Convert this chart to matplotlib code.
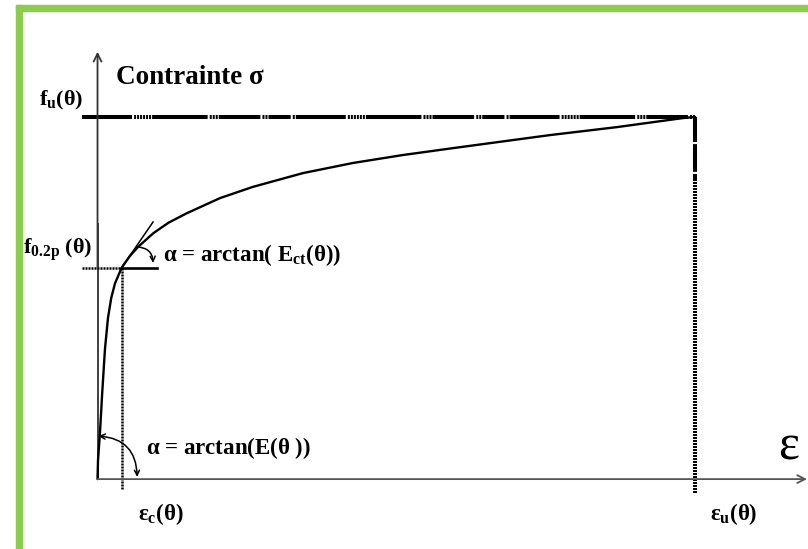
import matplotlib
matplotlib.use("Agg")
import matplotlib.pyplot as plt
from matplotlib.patches import Rectangle, FancyArrowPatch

plt.rcParams['font.family'] = ['Liberation Serif', 'DejaVu Serif']
plt.rcParams['font.weight'] = 'bold'
plt.rcParams['mathtext.fontset'] = 'custom'
plt.rcParams['mathtext.rm'] = 'Liberation Serif:bold'
plt.rcParams['mathtext.it'] = 'Liberation Serif:bold'
plt.rcParams['mathtext.bf'] = 'Liberation Serif:bold'
plt.rcParams['mathtext.sf'] = 'Liberation Sans:bold'
plt.rcParams['lines.scale_dashes'] = False

# stress-strain law at temperature theta (stress normalised by f_u)
strain = [0.0, 0.02, 0.10, 0.19, 0.30, 0.42, 0.55, 0.70, 0.97, 1.30, 1.64,
          2.24, 2.85, 3.58, 4.92, 6.24, 8.25, 10.26, 12.27, 14.28, 18.17,
          20.86, 23.51, 24.0]
stress = [0.0, 0.052, 0.130, 0.240, 0.360, 0.445, 0.500, 0.540, 0.584, 0.616,
          0.642, 0.679, 0.708, 0.734, 0.776, 0.807, 0.845, 0.873, 0.895,
          0.914, 0.950, 0.972, 0.997, 1.0]

eps_c = 0.97      # strain at f_0.2p
eps_u = 24.0      # ultimate strain
f_02p = 0.584     # proof strength
f_u = 1.0         # ultimate strength
tangent_end = (2.23, 0.710)   # end of the tangent line at f_0.2p

fig = plt.figure(figsize=(8.08, 5.49), dpi=100)
ax = fig.add_axes([0, 0, 1, 1])
ax.set_xlim(-3.916, 28.53)
ax.set_ylim(-0.193, 1.323)
ax.axis('off')

# green frame
green = '#8dcc4e'
fig.add_artist(Rectangle((16 / 808, 0), 6 / 808, 544 / 549,
                         transform=fig.transFigure, color=green, zorder=0))
fig.add_artist(Rectangle((16 / 808, 538 / 549), 792 / 808, 6 / 549,
                         transform=fig.transFigure, color=green, zorder=0))

# axes with arrows
axc = '#333333'
ax.plot([0, 0], [0, 0.704], color=axc, lw=1.3)
ax.annotate('', xy=(0, 1.18), xytext=(0, 0.583),
            arrowprops=dict(arrowstyle='->', color=axc, lw=1.3,
                            shrinkA=0, shrinkB=0, mutation_scale=14))
ax.annotate('', xy=(28.49, 0), xytext=(0, 0),
            arrowprops=dict(arrowstyle='->', color='#555555', lw=1.3,
                            shrinkA=0, shrinkB=0, mutation_scale=14))

# curve
ax.plot(strain, stress, color='black', lw=1.7, solid_joinstyle='round',
        solid_capstyle='round')

# f_u and eps_u limits (agg keeps at most 16 on/off pairs per pattern)
dots = [1.44, 0.72]
h_style = (0, [36, 1.5] + dots * 6 + [40, 1.5] + dots * 3 + [30, 1.5]
           + dots * 2 + [16, 1.5] + dots * 1)
ax.plot([-0.62, eps_u], [f_u, f_u], color='black', lw=2.9, ls=h_style)
ax.plot([eps_u, eps_u], [f_u, 0.83], color='black', lw=2.9,
        ls=(0, (18, 1.5, 20, 1.5)))
ax.plot([eps_u, eps_u], [0.83, -0.039], color='black', lw=2.9,
        ls=(0, dots))

# f_0.2p and eps_c marks
ax.plot([-0.62, eps_c], [f_02p, f_02p], color='black', lw=1.8,
        ls=(0, dots))
ax.plot([eps_c, 2.39], [f_02p, f_02p], color='black', lw=1.9)
ax.plot([eps_c, eps_c], [f_02p, -0.030], color='black', lw=1.8,
        ls=(0, dots))
ax.plot([eps_c, tangent_end[0]], [f_02p, tangent_end[1]], color='black',
        lw=1.1)

# angle arcs
ax.add_patch(FancyArrowPatch((1.59, 0.641), (2.23, 0.597),
                             connectionstyle='arc3,rad=-0.45',
                             arrowstyle='->', mutation_scale=9, lw=1.1,
                             color='black', shrinkA=0, shrinkB=0))
ax.add_patch(FancyArrowPatch((0.04, 0.119), (1.59, 0.006),
                             connectionstyle='arc3,rad=-0.45',
                             arrowstyle='<->', mutation_scale=9, lw=1.1,
                             color='black', shrinkA=0, shrinkB=0))

# labels
ax.annotate('Contrainte σ', xy=(0, f_u), xytext=(13.3, 23.8),
            textcoords='offset points', ha='left', va='baseline',
            fontsize=19.5)
ax.annotate(r'$\mathrm{f_u(\theta)}$', xy=(0, f_u), xytext=(-10.4, 12.2),
            textcoords='offset points', ha='right', va='center', fontsize=16)
ax.annotate(r'$\mathrm{f_{0.2p}}$ $\mathrm{(\theta)}$', xy=(0, f_02p),
            xytext=(-4, 13), textcoords='offset points', ha='right',
            va='center', fontsize=16)
ax.annotate(r'$\alpha$ = arctan( E$_{\mathrm{ct}}$($\theta$))',
            xy=(eps_c, f_02p), xytext=(29.5, 9.4), textcoords='offset points',
            ha='left', va='center', fontsize=16.5)
ax.annotate(r'$\alpha$ = arctan(E($\theta$ ))', xy=(0, 0),
            xytext=(35, 22.3), textcoords='offset points', ha='left',
            va='center', fontsize=16.5)
ax.annotate(r'$\mathrm{\varepsilon_c(\theta)}$', xy=(eps_c, 0),
            xytext=(11.5, -25), textcoords='offset points', ha='left',
            va='center', fontsize=16.5)
ax.annotate(r'$\mathrm{\varepsilon_u(\theta)}$', xy=(eps_u, 0),
            xytext=(10.8, -25), textcoords='offset points', ha='left',
            va='center', fontsize=16.5)
ax.annotate('ε', xy=(eps_u, 0), xytext=(67, 23), textcoords='offset points',
            ha='center', va='center', fontsize=36, fontweight='normal')

fig.savefig('out.png', dpi=100)
